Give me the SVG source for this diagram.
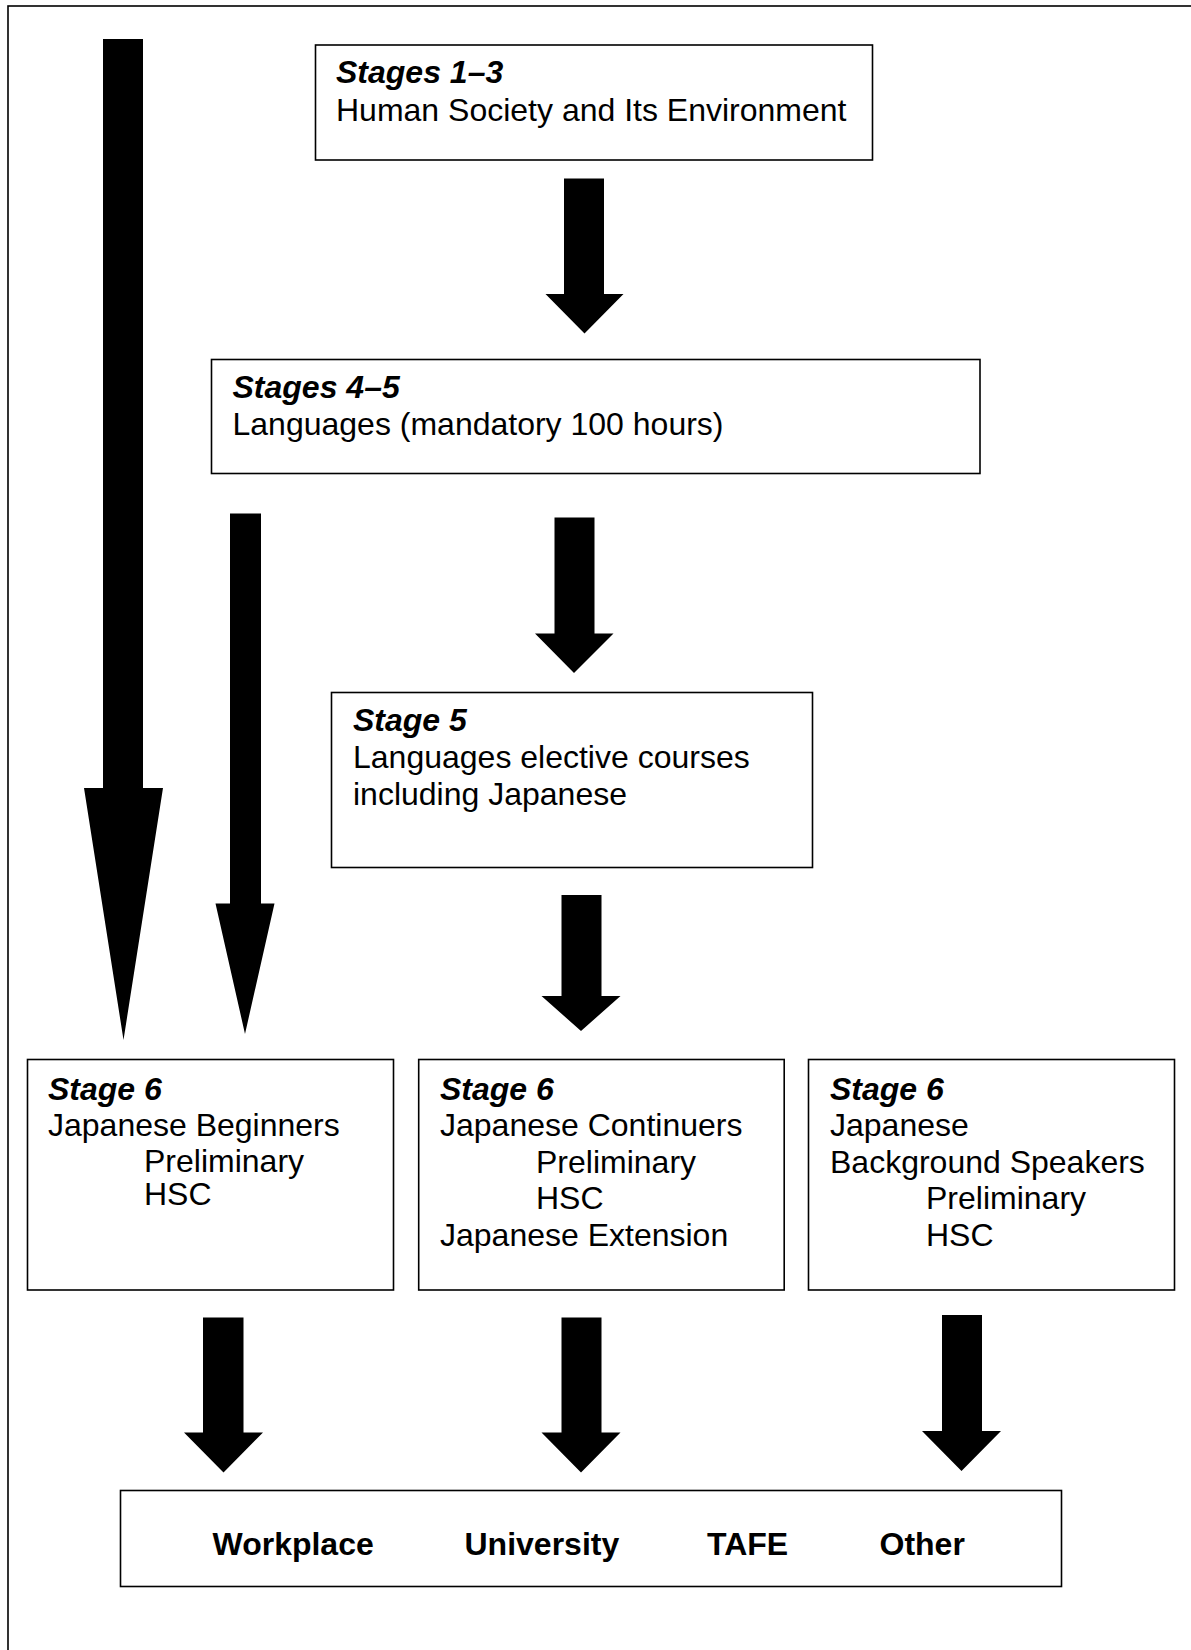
<svg xmlns="http://www.w3.org/2000/svg" width="1191" height="1650" viewBox="0 0 1191 1650">
<style>
.box{fill:#fff;stroke:#000;stroke-width:1.6}
.arr{fill:#000;stroke:none}
text{font-family:"Liberation Sans",Arial,sans-serif;font-size:32px;fill:#000}
.h{font-weight:bold;font-style:italic}
.b{font-weight:bold}
</style>
<rect x="0" y="0" width="1191" height="1650" fill="#fff"/>
<rect x="8" y="6" width="1220" height="1700" fill="none" stroke="#000" stroke-width="1.6"/>
<g id="connectors">
<polygon class="arr" points="103,39 143,39 143,788 163,788 123.5,1040 84,788 103,788"/>
<polygon class="arr" points="230,513.5 261,513.5 261,903.5 274.5,903.5 245,1034 215.5,903.5 230,903.5"/>
<polygon class="arr" points="564,178.5 604,178.5 604,294 623.5,294 584.5,333.5 545.5,294 564,294"/>
<polygon class="arr" points="554.5,517.5 594.5,517.5 594.5,633.5 613.5,633.5 574,673 535,633.5 554.5,633.5"/>
<polygon class="arr" points="561.5,895 601.5,895 601.5,996 620.5,996 581,1031 541.5,996 561.5,996"/>
<polygon class="arr" points="203,1317.5 243.5,1317.5 243.5,1432.5 263,1432.5 223.5,1472.5 184,1432.5 203,1432.5"/>
<polygon class="arr" points="561.5,1317.5 601.5,1317.5 601.5,1432.5 620.5,1432.5 581,1472.5 541.5,1432.5 561.5,1432.5"/>
<polygon class="arr" points="942,1315 982,1315 982,1431 1001,1431 961.5,1471 922,1431 942,1431"/>
</g>
<g id="stages1-3">
<rect class="box" x="315.5" y="45" width="557" height="115"/>
<text class="h" x="336" y="83">Stages 1–3</text>
<text x="336" y="121">Human Society and Its Environment</text>
</g>
<g id="stages4-5">
<rect class="box" x="211.5" y="359.5" width="768.5" height="114"/>
<text class="h" x="232.5" y="397.5">Stages 4–5</text>
<text x="232.5" y="435">Languages (mandatory 100 hours)</text>
</g>
<g id="stage5">
<rect class="box" x="331.5" y="692.5" width="481" height="175"/>
<text class="h" x="353" y="731">Stage 5</text>
<text x="353" y="768">Languages elective courses</text>
<text x="353" y="805">including Japanese</text>
</g>
<g id="stage6-beginners">
<rect class="box" x="27.5" y="1059.5" width="366" height="230.5"/>
<text class="h" x="48" y="1099.5">Stage 6</text>
<text x="48" y="1136">Japanese Beginners</text>
<text x="144" y="1172">Preliminary</text>
<text x="144" y="1205">HSC</text>
</g>
<g id="stage6-continuers">
<rect class="box" x="418.7" y="1059.5" width="365.5" height="230.5"/>
<text class="h" x="440" y="1100">Stage 6</text>
<text x="440" y="1136">Japanese Continuers</text>
<text x="536" y="1172.5">Preliminary</text>
<text x="536" y="1209">HSC</text>
<text x="440" y="1245.5">Japanese Extension</text>
</g>
<g id="stage6-background">
<rect class="box" x="808.5" y="1059.5" width="366" height="230.5"/>
<text class="h" x="830" y="1100">Stage 6</text>
<text x="830" y="1136">Japanese</text>
<text x="830" y="1172.5">Background Speakers</text>
<text x="926" y="1209">Preliminary</text>
<text x="926" y="1245.5">HSC</text>
</g>
<g id="destinations">
<rect class="box" x="120.5" y="1490.5" width="941" height="96"/>
<text class="b" x="212.5" y="1554.5">Workplace</text>
<text class="b" x="464.5" y="1554.5">University</text>
<text class="b" x="707" y="1554.5">TAFE</text>
<text class="b" x="879.5" y="1554.5">Other</text>
</g>
</svg>
